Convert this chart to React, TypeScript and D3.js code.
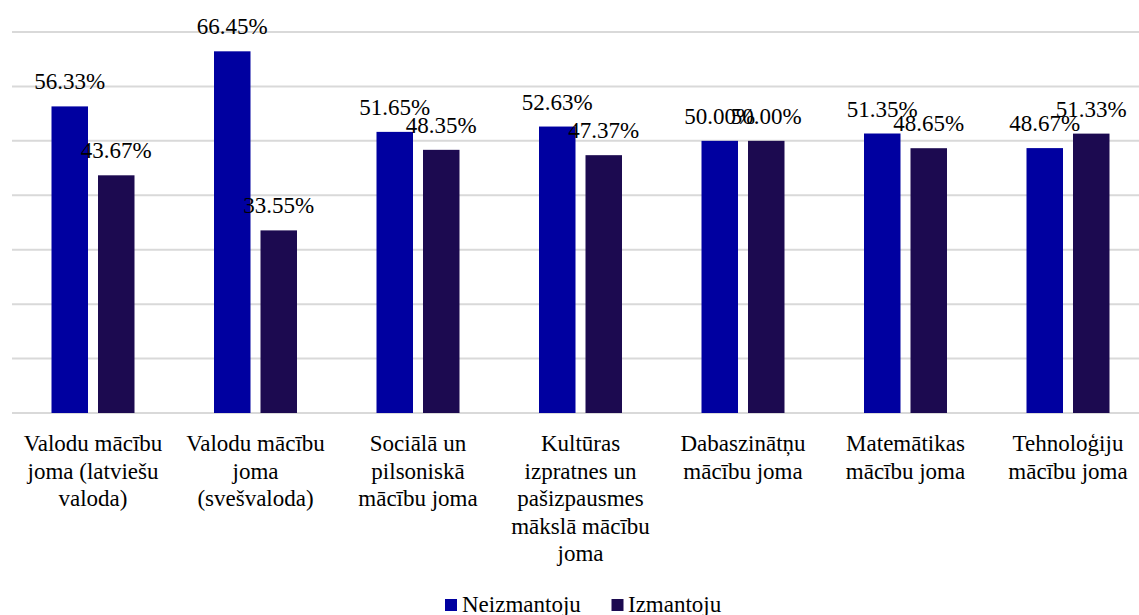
import React from "react";
import * as d3 from "d3";

const categories = [
  "Valodu mācību\njoma (latviešu\nvaloda)",
  "Valodu mācību\njoma\n(svešvaloda)",
  "Sociālā un\npilsoniskā\nmācību joma",
  "Kultūras\nizpratnes un\npašizpausmes\nmākslā mācību\njoma",
  "Dabaszinātņu\nmācību joma",
  "Matemātikas\nmācību joma",
  "Tehnoloģiju\nmācību joma",
];
const seriesNames = ["Neizmantoju", "Izmantoju"];
const neizmantoju = [56.33, 66.45, 51.65, 52.63, 50.0, 51.35, 48.67];
const izmantoju = [43.67, 33.55, 48.35, 47.37, 50.0, 48.65, 51.33];
const gridTicks = [0, 10, 20, 30, 40, 50, 60, 70];
const colors = ["#0000A0", "#1C0A50"];

const W = 1139;
const H = 615;
const FONT = '"Liberation Serif", Tinos, "Times New Roman", Times, "DejaVu Serif", serif';

export default function App() {
  const x = d3
    .scaleBand<number>()
    .domain(d3.range(categories.length))
    .range([11.75, 11.75 + 162.5 * categories.length])
    .paddingInner(0)
    .paddingOuter(0);
  const y = d3.scaleLinear().domain([0, 70]).range([413, 32]);
  const inner = d3
    .scaleBand<number>()
    .domain([0, 1])
    .range([-41.5, 41.5])
    .paddingInner(0.215)
    .paddingOuter(0);
  const series = [neizmantoju, izmantoju];
  const fmt = (v: number) => v.toFixed(2) + "%";
  const ts: React.CSSProperties = { fontFamily: FONT, fontSize: "23px" };

  return (
    <svg
      width={W}
      height={H}
      style={{ position: "absolute", left: 0, top: 0, background: "#fff", fontFamily: FONT }}
    >
      {gridTicks.map((t) => (
        <line
          key={t}
          x1={12}
          x2={W}
          y1={y(t)}
          y2={y(t)}
          stroke="#d9d9d9"
          strokeWidth={2}
        />
      ))}
      {series.map((vals, si) =>
        vals.map((v, i) => {
          const cx = (x(i) as number) + x.bandwidth() / 2;
          const bx = cx + (inner(si) as number);
          return (
            <rect
              key={`${si}-${i}`}
              x={bx}
              y={y(v)}
              width={inner.bandwidth()}
              height={y(0) - y(v)}
              fill={colors[si]}
            />
          );
        })
      )}
      {series.map((vals, si) =>
        vals.map((v, i) => {
          const cx = (x(i) as number) + x.bandwidth() / 2;
          const bx = cx + (inner(si) as number) + inner.bandwidth() / 2;
          return (
            <text
              key={`l-${si}-${i}`}
              x={bx}
              y={y(v) - 17}
              textAnchor="middle"
              style={ts}
              fill="#000"
            >
              {fmt(v)}
            </text>
          );
        })
      )}
      {categories.map((c, i) => {
        const cx = (x(i) as number) + x.bandwidth() / 2;
        return (
          <text key={`c-${i}`} x={cx} y={451} textAnchor="middle" style={ts} fill="#000">
            {c.split("\n").map((ln, li) => (
              <tspan key={li} x={cx} dy={li === 0 ? 0 : 27.5}>
                {ln}
              </tspan>
            ))}
          </text>
        );
      })}
      <g>
        <rect x={445} y={599} width={12} height={12} fill={colors[0]} />
        <text x={462} y={612} style={ts} fill="#000">
          {seriesNames[0]}
        </text>
        <rect x={611.5} y={599} width={12} height={12} fill={colors[1]} />
        <text x={628} y={612} style={ts} fill="#000">
          {seriesNames[1]}
        </text>
      </g>
    </svg>
  );
}
